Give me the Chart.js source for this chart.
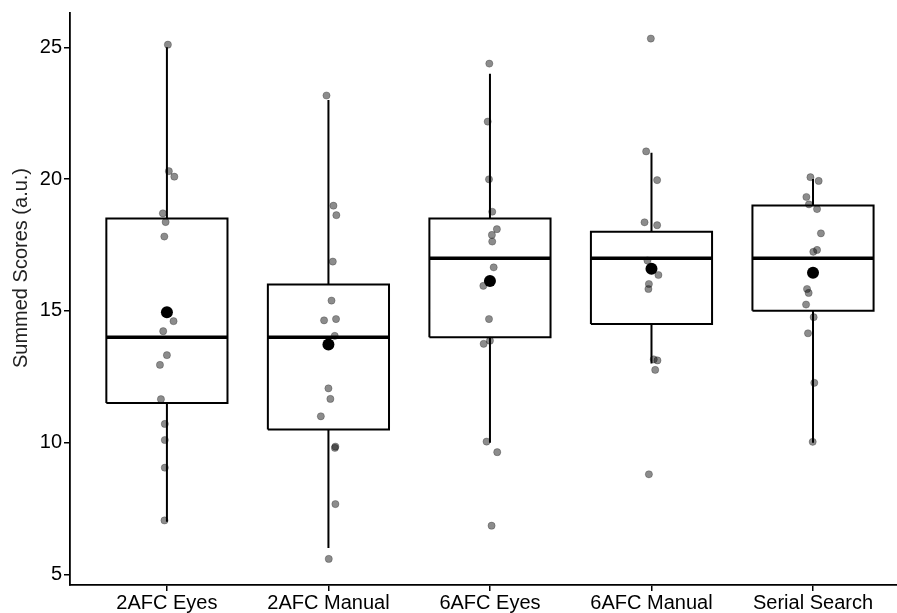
<!DOCTYPE html>
<html>
<head>
<meta charset="utf-8">
<script src="https://cdn.jsdelivr.net/npm/chart.js@4.4.0/dist/chart.umd.min.js"></script>
<style>
  body { margin: 0; background: #fff; }
  canvas { display: block; }
</style>
</head>
<body>
<canvas id="scores" width="897" height="613"></canvas>
<script>
const categories = ['2AFC Eyes', '2AFC Manual', '6AFC Eyes', '6AFC Manual', 'Serial Search'];
const yTicks = [5, 10, 15, 20, 25];

// box summaries
const q1 = [11.5, 10.5, 14, 14.5, 15];
const medians = [14, 14, 17, 17, 17];
const q3 = [18.5, 16, 18.5, 18, 19];
const whiskerLow = [7, 6, 10, 13, 10];
const whiskerHigh = [25, 23, 24, 21, 20];
const means = [14.95, 13.72, 16.13, 16.6, 16.45];

// individual scores and their horizontal jitter
const scores = [
  [25.1, 20.3, 20.09, 18.7, 18.37, 17.82, 14.61, 14.23, 13.32, 12.95, 11.65, 10.71, 10.1, 9.05, 7.05],
  [23.17, 18.99, 18.63, 16.87, 15.39, 14.64, 14.69, 14.05, 12.06, 11.66, 11.0, 9.85, 9.8, 7.67, 5.59],
  [24.38, 22.18, 19.99, 18.76, 18.1, 17.88, 17.63, 16.65, 15.95, 14.69, 13.75, 13.87, 10.04, 9.64, 6.85],
  [25.33, 21.05, 19.96, 18.36, 18.25, 16.91, 16.36, 16.02, 15.83, 13.16, 13.12, 12.76, 8.8],
  [20.07, 19.93, 19.32, 19.04, 18.86, 17.94, 17.31, 17.24, 15.83, 15.68, 15.24, 14.76, 14.15, 12.27, 10.03]
];
const jitter = [
  [0.006, 0.012, 0.046, -0.025, -0.008, -0.016, 0.041, -0.023, 0, -0.043, -0.037, -0.013, -0.013, -0.013, -0.015],
  [-0.012, 0.031, 0.049, 0.027, 0.019, -0.027, 0.047, 0.039, 0, 0.012, -0.047, 0.043, 0.04, 0.043, 0.002],
  [-0.004, -0.014, -0.006, 0.014, 0.043, 0.012, 0.014, 0.023, -0.041, -0.006, -0.039, 0, -0.021, 0.045, 0.01],
  [-0.004, -0.033, 0.035, -0.043, 0.035, -0.025, 0.043, -0.016, -0.019, 0.014, 0.037, 0.023, -0.016],
  [-0.016, 0.035, -0.041, -0.025, 0.025, 0.049, 0.025, 0.002, -0.037, -0.027, -0.043, 0.004, -0.031, 0.008, -0.002]
];

const halfBox = 0.375;

const boxOutline = [];
const medianLines = [];
const whiskers = [];
const points = [];
const meanPoints = [];

categories.forEach((c, i) => {
  const x = i + 1;
  boxOutline.push(
    {x: x - halfBox, y: q1[i]}, {x: x + halfBox, y: q1[i]},
    {x: x + halfBox, y: q3[i]}, {x: x - halfBox, y: q3[i]},
    {x: x - halfBox, y: q1[i]}, {x: x, y: null}
  );
  medianLines.push({x: x - halfBox, y: medians[i]}, {x: x + halfBox, y: medians[i]}, {x: x, y: null});
  whiskers.push(
    {x: x, y: q3[i]}, {x: x, y: whiskerHigh[i]}, {x: x, y: null},
    {x: x, y: q1[i]}, {x: x, y: whiskerLow[i]}, {x: x, y: null}
  );
  scores[i].forEach((v, j) => points.push({x: x + jitter[i][j], y: v}));
  meanPoints.push({x: x, y: means[i]});
});

const yTitle = {
  id: 'yTitle',
  afterDraw(chart) {
    const ctx = chart.ctx;
    ctx.save();
    ctx.translate(21, chart.chartArea.top + 255);
    ctx.rotate(-Math.PI / 2);
    ctx.font = '20px "Liberation Sans", Arial, sans-serif';
    ctx.fillStyle = '#222';
    ctx.textAlign = 'center';
    ctx.textBaseline = 'middle';
    ctx.fillText('Summed Scores (a.u.)', 0, 0);
    ctx.restore();
  }
};

const ctx = document.querySelector('#scores');

const scoresChart = new Chart(ctx, {
  type: 'scatter',
  data: {
    datasets: [
      {
        label: 'Mean',
        data: meanPoints,
        backgroundColor: '#000',
        borderColor: '#000',
        pointRadius: 6,
        borderWidth: 0,
        order: 0
      },
      {
        label: 'Scores',
        data: points,
        backgroundColor: 'rgba(0,0,0,0.45)',
        borderColor: 'rgba(0,0,0,0.25)',
        borderWidth: 1,
        pointRadius: 3.6,
        order: 1
      },
      {
        label: 'Median',
        data: medianLines,
        showLine: true,
        borderColor: '#000',
        borderWidth: 3.5,
        pointRadius: 0,
        spanGaps: false,
        order: 2
      },
      {
        label: 'Box',
        data: boxOutline,
        showLine: true,
        borderColor: '#000',
        borderWidth: 2,
        pointRadius: 0,
        spanGaps: false,
        order: 3
      },
      {
        label: 'Whiskers',
        data: whiskers,
        showLine: true,
        borderColor: '#000',
        borderWidth: 2,
        pointRadius: 0,
        spanGaps: false,
        order: 4
      }
    ]
  },
  options: {
    responsive: false,
    animation: false,
    layout: {autoPadding: false, padding: {top: 13, right: 0, left: 0, bottom: 0}},
    plugins: {
      legend: {display: false},
      tooltip: {enabled: false}
    },
    scales: {
      x: {
        type: 'linear',
        min: 0.4,
        max: 5.52,
        afterFit: (scale) => {
          scale.height = 28;
          scale.paddingLeft = 0;
          scale.paddingRight = 0;
        },
        afterBuildTicks: (scale) => { scale.ticks = categories.map((c, i) => ({value: i + 1})); },
        grid: {display: true, drawOnChartArea: false, drawTicks: true, tickLength: 6, color: '#000', lineWidth: 1.5},
        border: {display: true, color: '#000', width: 1.8},
        ticks: {
          color: '#000',
          padding: 0,
          maxRotation: 0,
          autoSkip: false,
          font: {family: '"Liberation Sans", Arial, sans-serif', size: 20},
          callback: (v) => categories[v - 1]
        }
      },
      y: {
        min: 4.6,
        max: 26.3,
        afterFit: (scale) => {
          scale.width = 70;
          scale.paddingTop = 0;
          scale.paddingBottom = 0;
        },
        afterBuildTicks: (scale) => { scale.ticks = yTicks.map(v => ({value: v})); },
        grid: {display: true, drawOnChartArea: false, drawTicks: true, tickLength: 6, color: '#000', lineWidth: 1.5},
        border: {display: true, color: '#000', width: 1.8},
        ticks: {
          color: '#000',
          padding: 2,
          font: {family: '"Liberation Sans", Arial, sans-serif', size: 20}
        }
      }
    }
  },
  plugins: [yTitle]
});
</script>
</body>
</html>
